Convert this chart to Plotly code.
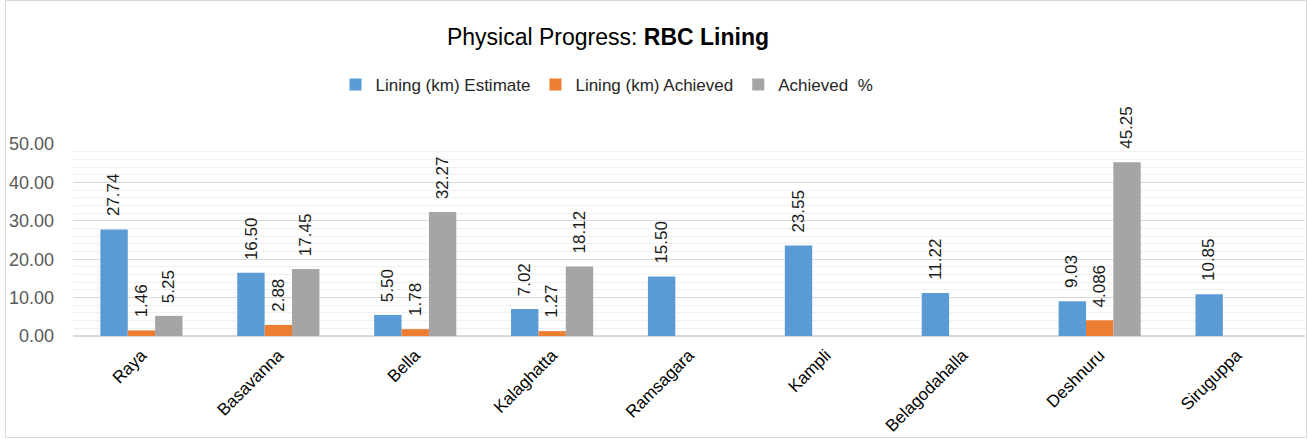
import plotly.graph_objects as go

categories = ["Raya", "Basavanna", "Bella", "Kalaghatta", "Ramsagara", "Kampli",
              "Belagodahalla", "Deshnuru", "Siruguppa"]
estimate = [27.74, 16.50, 5.50, 7.02, 15.50, 23.55, 11.22, 9.03, 10.85]
achieved = [1.46, 2.88, 1.78, 1.27, None, None, None, 4.086, None]
achieved_pct = [5.25, 17.45, 32.27, 18.12, None, None, None, 45.25, None]
y_ticks = [0, 10, 20, 30, 40, 50]

series = [
    ("Lining (km) Estimate", estimate, "#5B9BD5"),
    ("Lining (km) Achieved", achieved, "#ED7D31"),
    ("Achieved  %", achieved_pct, "#A5A5A5"),
]


def fmt(v):
    return f"{v:.2f}" if round(v, 2) == v else f"{v}"


W, H = 1308, 439
ml, mr, mt, mb = 73, 3, 144, 103
pw = W - ml - mr
ph = H - mt - mb
FONT = "Liberation Sans, Arial, sans-serif"

fig = go.Figure()
bargap = 0.4
cat_px = pw / len(categories)
bar_px = cat_px * (1 - bargap) / len(series)

for i, (name, vals, col) in enumerate(series):
    fig.add_trace(go.Bar(
        x=categories, y=vals, name=name,
        marker=dict(color=col, line=dict(width=0)),
    ))
    for c, v in zip(categories, vals):
        if v is None:
            continue
        fig.add_annotation(
            x=c, y=v, xref="x", yref="y", text=fmt(v), showarrow=False,
            textangle=-90, xanchor="center", yanchor="bottom",
            xshift=(i - 1) * bar_px, yshift=11,
            font=dict(family=FONT, size=17, color="#1a1a1a"),
        )

fig.update_layout(
    width=W, height=H,
    margin=dict(l=ml, r=mr, t=mt, b=mb, autoexpand=False),
    paper_bgcolor="white", plot_bgcolor="white",
    font=dict(family=FONT, color="#404040"),
    title=dict(text="Physical Progress: <b>RBC Lining</b>",
               x=(608 - ml) / pw, xref="paper", xanchor="center",
               y=1 - 37 / H, yanchor="middle",
               font=dict(size=23, color="#000000")),
    barmode="group", bargap=bargap, bargroupgap=0,
    legend=dict(orientation="h", x=(607 - ml) / pw, xanchor="center",
                y=(336 - 85) / ph, yanchor="middle",
                font=dict(size=17, color="#262626"), itemwidth=30,
                traceorder="normal"),
    showlegend=True,
)
fig.update_xaxes(tickangle=-45, tickfont=dict(family=FONT, size=17, color="#000000"),
                 ticklabelstandoff=5, automargin=False,
                 showgrid=False, showline=False, ticks="")
fig.update_yaxes(range=[0, 50], tickvals=y_ticks, tickformat=".2f",
                 tickfont=dict(family=FONT, size=18, color="#595959"),
                 ticklabelstandoff=18, automargin=False,
                 showgrid=True, gridcolor="#d9d9d9", gridwidth=1,
                 minor=dict(dtick=2, showgrid=True, gridcolor="#f0f0f0", gridwidth=1),
                 zeroline=True, zerolinecolor="#d9d9d9", zerolinewidth=1.5,
                 showline=False, ticks="")

fig.add_shape(type="rect", xref="paper", yref="paper",
              x0=(5.5 - ml) / pw, x1=(W - 1.5 - ml) / pw,
              y0=(336 - (H - 1.5)) / ph, y1=(336 - 0.5) / ph,
              line=dict(color="#d9d9d9", width=1), layer="below")

fig.write_html("out.html", config={"displayModeBar": False},
               post_script="document.body.style.margin='0';")
